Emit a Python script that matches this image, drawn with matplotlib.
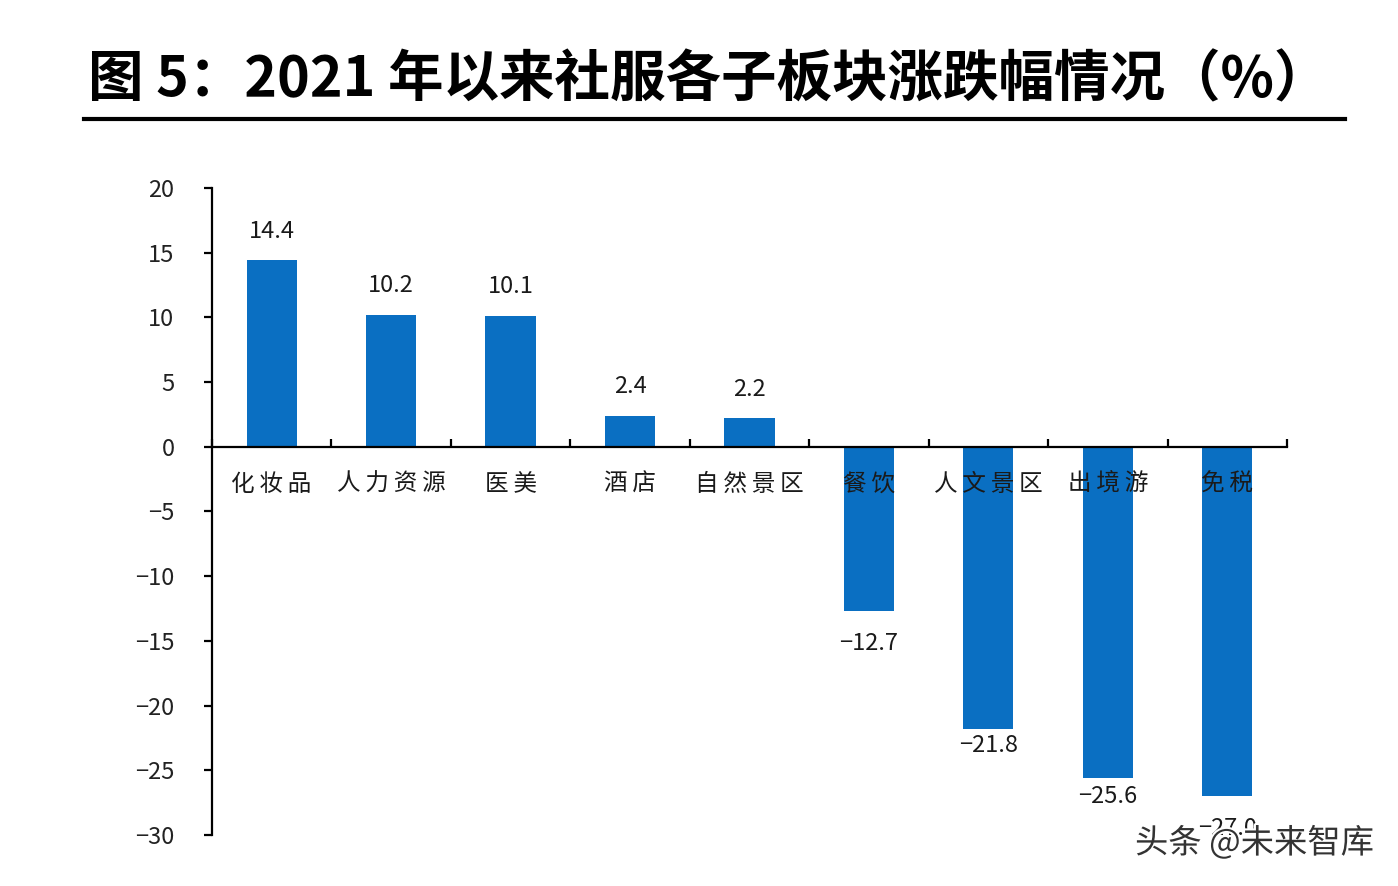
#!/usr/bin/env python3
"""Bar chart: 2021 sub-sector returns of social services (%)."""
import matplotlib
matplotlib.use('Agg')
import matplotlib.pyplot as plt
import matplotlib.patheffects as pe
from matplotlib.lines import Line2D

plt.rcParams['font.family'] = ['Noto Sans CJK SC', 'DejaVu Sans']
plt.rcParams['axes.unicode_minus'] = True

# data
categories = ['化妆品', '人力资源', '医美', '酒店', '自然景区',
              '餐饮', '人文景区', '出境游', '免税']
values = [14.4, 10.2, 10.1, 2.4, 2.2, -12.7, -21.8, -25.6, -27.0]
value_labels = ['14.4', '10.2', '10.1', '2.4', '2.2',
                '\u221212.7', '\u221221.8', '\u221225.6', '\u221227.0']
yticks = [20, 15, 10, 5, 0, -5, -10, -15, -20, -25, -30]
# label offsets from bar end, in points (as placed in the source figure)
label_offsets = [21, 21, 21, 21, 21, -23, -12, -13, -23]

BAR_COLOR = '#0A6FC2'

fig = plt.figure(figsize=(13.98, 8.86), dpi=100)
ax = fig.add_axes([0.1516, 0.0576, 0.769, 0.7302])

x = list(range(len(categories)))
ax.bar(x, values, width=0.42, color=BAR_COLOR, zorder=2)

ax.set_xlim(-0.5, len(categories) - 0.5)
ax.set_ylim(-30, 20)

# spines
for side in ('top', 'right'):
    ax.spines[side].set_visible(False)
ax.spines['bottom'].set_position(('data', 0))
ax.spines['left'].set_linewidth(1.6)
ax.spines['bottom'].set_linewidth(1.6)

# ticks
ax.set_yticks(yticks)
ax.set_yticklabels([str(v).replace('-', '\u2212') for v in yticks])
ax.tick_params(axis='y', direction='out', length=6, width=1.6, pad=21,
               labelsize=17, labelcolor='#222222')
ax.set_xticks([i - 0.5 for i in range(len(categories) + 1)])
ax.set_xticklabels([])
ax.tick_params(axis='x', direction='in', length=6, width=1.6)

# category labels just under the zero line (slightly letter-spaced)
for i, name in enumerate(categories):
    ax.annotate('\u2009'.join(name), (i, 0), xytext=(0, -27),
                textcoords='offset points', ha='center', va='center',
                fontsize=17, color='#1a1a1a', zorder=3)

# value labels
for i, (v, lab, off) in enumerate(zip(values, value_labels, label_offsets)):
    ax.annotate(lab, (i, v), xytext=(0, off), textcoords='offset points',
                ha='center', va='center', fontsize=17, color='#1a1a1a')

# title and rule
fig.text(0.063, 0.909, '图 5：2021 年以来社服各子板块涨跌幅情况（%）',
         ha='left', va='center', fontsize=40, fontweight='bold', color='black')
fig.add_artist(Line2D([0.060, 0.962], [0.866, 0.866], color='black',
                      linewidth=3, transform=fig.transFigure))

# watermark
fig.text(0.983, 0.048, '头条 @未来智库', ha='right', va='center',
         fontsize=24, color='#333333',
         path_effects=[pe.withStroke(linewidth=3, foreground='white')])

fig.savefig('out.png', dpi=100)
